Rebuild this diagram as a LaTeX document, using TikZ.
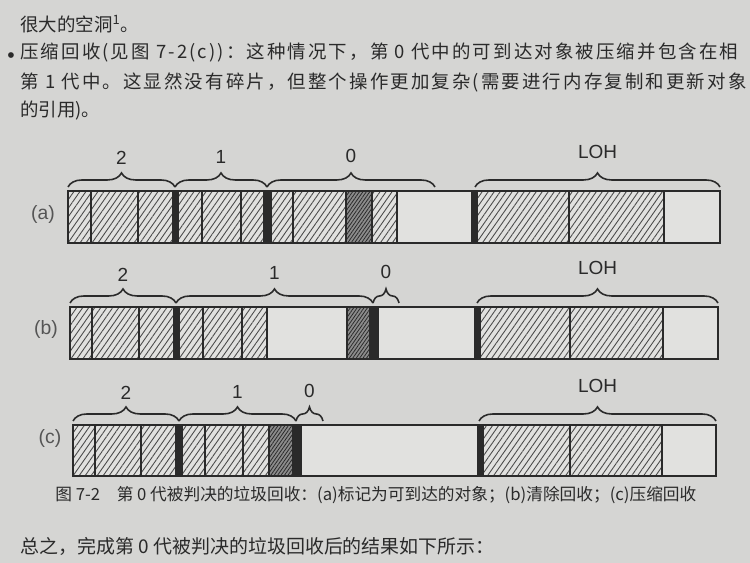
\documentclass[tikz,border=0pt]{standalone}
\usepackage{fontspec}
\usepackage{graphicx}
\setmainfont{Liberation Sans}
\newfontfamily\cjk{Noto Sans CJK SC}
\newfontfamily\cjkwide[LetterSpace=11.5]{Noto Sans CJK SC}
\usetikzlibrary{patterns.meta,decorations.pathreplacing}
\definecolor{paper}{HTML}{D5D5D3}
\definecolor{cell}{HTML}{E1E1DF}
\definecolor{ink}{HTML}{2A2A2A}
\definecolor{darkcell}{HTML}{8C8C8C}
\tikzset{
  hatchcell/.style={draw=ink, line width=0.8pt, preaction={fill=cell},
    pattern={Lines[angle=55,distance=2.8pt,line width=0.5pt]}, pattern color=ink!85},
  darkhatch/.style={draw=ink, line width=0.8pt, preaction={fill=darkcell},
    pattern={Lines[angle=55,distance=1.6pt,line width=0.45pt]}, pattern color=ink},
  emptycell/.style={draw=ink, line width=0.8pt, fill=cell},
  wall/.style={fill=ink, draw=ink, line width=0.4pt},
  barframe/.style={draw=ink, line width=1.1pt},
  gbrace/.style={draw=ink, line width=0.9pt, decorate, decoration={brace, amplitude=8pt}},
  glabel/.style={font=\fontsize{10.8}{12}\selectfont, text=ink, inner sep=0pt},
  rowlabel/.style={font=\fontsize{11}{12}\selectfont, text=ink!80, inner sep=0pt},
  bodytext/.style={font=\cjk\fontsize{10.5}{12}\selectfont, text=ink, anchor=west, inner sep=0pt},
  widetext/.style={font=\cjkwide\fontsize{10.5}{12}\selectfont, text=ink, anchor=west, inner sep=0pt},
  captext/.style={font=\cjk\fontsize{9.5}{11}\selectfont, text=ink, anchor=west, inner sep=0pt}
}
\begin{document}
\begin{tikzpicture}[x=0.02cm,y=-0.02cm]
\fill[paper] (0,0) rectangle (750,563);
\useasboundingbox (0,0) rectangle (750,563);
\clip (0,0) rectangle (750,563);

% ---------- surrounding text ----------
\node[bodytext] (t1) at (20,24) {很大的空洞\textsuperscript{1}。};
\node[text=ink, font=\fontsize{12}{12}\selectfont, inner sep=0pt] (bul) at (11,58) {\textbullet};
\node[widetext] (t2) at (20,53) {压缩回收(见图 7-2(c))：这种情况下，第 0 代中的可到达对象被压缩并包含在相};
\node[widetext] (t3) at (20,82) {第 1 代中。这显然没有碎片，但整个操作更加复杂(需要进行内存复制和更新对象};
\node[bodytext] (t4) at (20,111) {的引用)。};

% ---------- row (a) ----------
\node[rowlabel] (la) at (43,215) {(a)};
\foreach \p/\q/\s in {68/91/hatchcell, 91/138/hatchcell, 138/173/hatchcell, 173/178/wall,
  178/202/hatchcell, 202/241/hatchcell, 241/264/hatchcell, 264/271/wall,
  271/293/hatchcell, 293/346/hatchcell, 346/372/darkhatch, 372/397/hatchcell,
  397/472/emptycell, 472/477/wall, 477/569/hatchcell, 569/664/hatchcell, 664/720/emptycell}
  \draw[\s] (\p,191) rectangle (\q,243);
\draw[barframe] (68,191) rectangle (720,243);
\coordinate (a2l) at (68,187);  \coordinate (a2r) at (175,187);
\coordinate (a1l) at (175,187); \coordinate (a1r) at (267,187);
\coordinate (a0l) at (267,187); \coordinate (a0r) at (435,187);
\coordinate (aLl) at (475,187); \coordinate (aLr) at (720,187);
\draw[gbrace] (a2l) -- (a2r);
\draw[gbrace] (a1l) -- (a1r);
\draw[gbrace] (a0l) -- (a0r);
\draw[gbrace] (aLl) -- (aLr);
\node[glabel] (ta2) at (121.5,158) {2};
\node[glabel] (ta1) at (221,157) {1};
\node[glabel] (ta0) at (351,156) {0};
\node[glabel] (taL) at (597.5,152) {LOH};

% ---------- row (b) ----------
\node[rowlabel] (lb) at (46,330) {(b)};
\foreach \p/\q/\s in {70/92/hatchcell, 92/139/hatchcell, 139/174/hatchcell, 174/179/wall,
  179/203/hatchcell, 203/242/hatchcell, 242/267/hatchcell,
  267/347/emptycell, 347/370/darkhatch, 370/378/wall,
  378/475/emptycell, 475/480/wall, 480/570/hatchcell, 570/663/hatchcell, 663/718/emptycell}
  \draw[\s] (\p,307) rectangle (\q,359);
\draw[barframe] (70,307) rectangle (718,359);
\coordinate (b2l) at (70,303);  \coordinate (b2r) at (176,303);
\coordinate (b1l) at (176,303); \coordinate (b1r) at (373,303);
\coordinate (b0l) at (373,303); \coordinate (b0r) at (399,303);
\coordinate (bLl) at (477,303); \coordinate (bLr) at (718,303);
\draw[gbrace] (b2l) -- (b2r);
\draw[gbrace] (b1l) -- (b1r);
\draw[gbrace] (b0l) -- (b0r);
\draw[gbrace] (bLl) -- (bLr);
\node[glabel] (tb2) at (123,275) {2};
\node[glabel] (tb1) at (274.5,273) {1};
\node[glabel] (tb0) at (386,272) {0};
\node[glabel] (tbL) at (597.5,268) {LOH};

% ---------- row (c) ----------
\node[rowlabel] (lc) at (50,438) {(c)};
\foreach \p/\q/\s in {73/95/hatchcell, 95/141/hatchcell, 141/176/hatchcell, 176/182/wall,
  182/205/hatchcell, 205/243/hatchcell, 243/269/hatchcell,
  269/293/darkhatch, 293/301/wall,
  301/478/emptycell, 478/483/wall, 483/570/hatchcell, 570/662/hatchcell, 662/716/emptycell}
  \draw[\s] (\p,425) rectangle (\q,476);
\draw[barframe] (73,425) rectangle (716,476);
\coordinate (c2l) at (73,421);  \coordinate (c2r) at (179,421);
\coordinate (c1l) at (179,421); \coordinate (c1r) at (296,421);
\coordinate (c0l) at (296,421); \coordinate (c0r) at (323,421);
\coordinate (cLl) at (479,421); \coordinate (cLr) at (716,421);
\draw[gbrace] (c2l) -- (c2r);
\draw[gbrace] (c1l) -- (c1r);
\draw[gbrace] (c0l) -- (c0r);
\draw[gbrace] (cLl) -- (cLr);
\node[glabel] (tc2) at (126,393) {2};
\node[glabel] (tc1) at (237.5,392) {1};
\node[glabel] (tc0) at (309.5,391) {0};
\node[glabel] (tcL) at (597.5,386) {LOH};

% ---------- caption and following text ----------
\node[captext] (cap) at (55,495) {图 7-2\hspace{1em}第 0 代被判决的垃圾回收：(a)标记为可到达的对象；(b)清除回收；(c)压缩回收};
\node[bodytext, font=\cjk\fontsize{10.8}{12}\selectfont] (t5) at (20,546) {总之，完成第 0 代被判决的垃圾回收后的结果如下所示：};
\end{tikzpicture}
\end{document}
